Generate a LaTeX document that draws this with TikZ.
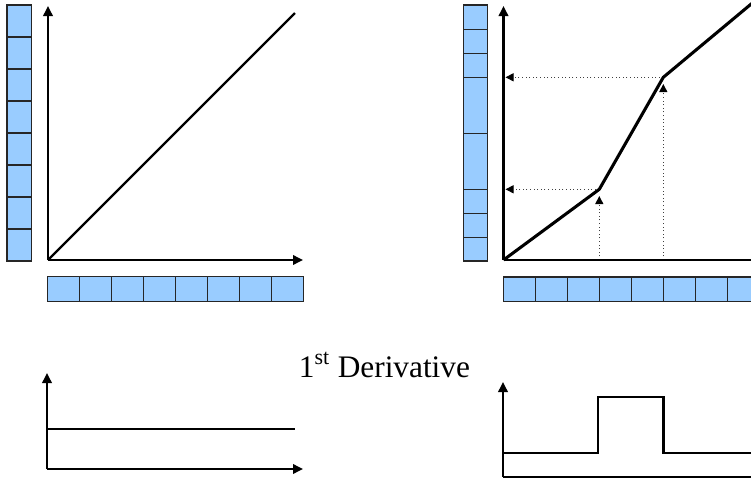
\documentclass[tikz,border=0pt]{standalone}
\usepackage{fontspec}
\setmainfont{Liberation Serif}
\usepackage{xcolor}
\usetikzlibrary{arrows.meta}

\definecolor{cellblue}{HTML}{99CCFF}

\tikzset{
  axis/.style={line width=1.8pt, -{Triangle[length=7.5pt,width=7pt]}},
  cell/.style={fill=cellblue, draw=black!85, line width=0.8pt},
  curve/.style={line width=2.3pt, line join=round},
  guide/.style={dotted, black!75, line width=0.7pt, -{Triangle[length=6pt,width=6pt,color=black]}},
}

\begin{document}
\begin{tikzpicture}[x=0.75pt, y=-0.75pt]
\useasboundingbox (0,0) rectangle (751,483);
\clip (0,0) rectangle (751,483);

        % Top left: linear mapping
        \coordinate (O1) at (48, 260);      % origin
        \coordinate (Y1) at (48, 6);        % top of y axis
        \coordinate (X1) at (303, 260);     % end of x axis
        \coordinate (P1) at (295, 13);      % end of the line

        % uniform cells along y
        \draw[cell] (7, 5) rectangle (31.7, 261);
        \draw[cell] (7, 37) -- (31.7, 37)   (7, 69) -- (31.7, 69)
                    (7, 101) -- (31.7, 101) (7, 133) -- (31.7, 133)
                    (7, 165) -- (31.7, 165) (7, 197) -- (31.7, 197)
                    (7, 229) -- (31.7, 229);

        % uniform cells along x
        \draw[cell] (47.7, 276.7) rectangle (303.3, 301.7);
        \draw[cell] (79.7, 276.7) -- (79.7, 301.7)   (111.7, 276.7) -- (111.7, 301.7)
                    (143.6, 276.7) -- (143.6, 301.7) (175.5, 276.7) -- (175.5, 301.7)
                    (207.5, 276.7) -- (207.5, 301.7) (239.4, 276.7) -- (239.4, 301.7)
                    (271.4, 276.7) -- (271.4, 301.7);

        \draw[axis] (O1) -- (Y1);
        \draw[axis] (O1) -- (X1);
        \draw[line width=1.8pt] (O1) -- (P1);

        % Top right: piecewise linear mapping
        \coordinate (O2) at (503.5, 260);   % origin
        \coordinate (Y2) at (503.5, 6);     % top of y axis
        \coordinate (X2) at (780, 260);     % end of x axis (off page)
        \coordinate (K1) at (599.3, 189.3); % first knee
        \coordinate (K2) at (663.3, 77.3);  % second knee
        \coordinate (P2) at (770, -11.7);   % end of the curve (off page)

        % guide end points
        \coordinate (H1) at (505.5, 189.3); % on y axis, level of K1
        \coordinate (H2) at (505.5, 77.3);  % on y axis, level of K2
        \coordinate (V1) at (599.3, 260);   % on x axis, below K1
        \coordinate (V2) at (663.3, 260);   % on x axis, below K2
        \coordinate (T1) at (599.3, 196);   % tip under K1
        \coordinate (T2) at (663.3, 84);    % tip under K2

        % non uniform cells along y
        \draw[cell] (463.3, 5) rectangle (487.3, 261);
        \draw[cell] (463.3, 29.3) -- (487.3, 29.3)   (463.3, 53.3) -- (487.3, 53.3)
                    (463.3, 77.3) -- (487.3, 77.3)   (463.3, 133.3) -- (487.3, 133.3)
                    (463.3, 189.3) -- (487.3, 189.3) (463.3, 213.3) -- (487.3, 213.3)
                    (463.3, 237.3) -- (487.3, 237.3);

        % uniform cells along x
        \draw[cell] (503.3, 277) rectangle (759.3, 301.7);
        \draw[cell] (535.3, 277) -- (535.3, 301.7) (567.3, 277) -- (567.3, 301.7)
                    (599.3, 277) -- (599.3, 301.7) (631.3, 277) -- (631.3, 301.7)
                    (663.3, 277) -- (663.3, 301.7) (695.3, 277) -- (695.3, 301.7)
                    (727.3, 277) -- (727.3, 301.7);

        \draw[guide] (K1) -- (H1);
        \draw[guide] (K2) -- (H2);
        \draw[guide] (V1) -- (T1);
        \draw[guide] (V2) -- (T2);

        \draw[axis] (O2) -- (Y2);
        \draw[axis] (O2) -- (X2);
        \draw[curve] (O2) -- (K1) -- (K2) -- (P2);

        % Title
        \node[font=\fontsize{23.5}{28}\selectfont, anchor=base] (title) at (384.5, 377)
             {1\textsuperscript{st} Derivative};

        % Bottom left: constant derivative
        \coordinate (O3) at (47, 469);      % origin
        \coordinate (Y3) at (47, 373);      % top of y axis
        \coordinate (X3) at (303, 469);     % end of x axis
        \coordinate (L3) at (47, 429);      % level start
        \coordinate (R3) at (295, 429);     % level end

        \draw[axis] (O3) -- (Y3);
        \draw[axis] (O3) -- (X3);
        \draw[line width=1.8pt] (L3) -- (R3);

        % Bottom right: step derivative
        \coordinate (O4) at (503, 477);     % origin
        \coordinate (Y4) at (503, 382);     % top of y axis
        \coordinate (X4) at (780, 477);     % end of x axis (off page)
        \coordinate (L4) at (503, 453);     % low level start
        \coordinate (R4) at (770, 453);     % low level end (off page)

        \draw[axis] (O4) -- (Y4);
        \draw[axis] (O4) -- (X4);
        \draw[line width=1.8pt, line join=miter]
             (L4) -- (598, 453) -- (598, 397) -- (663.3, 397) -- (663.3, 453) -- (R4);
\end{tikzpicture}
\end{document}
